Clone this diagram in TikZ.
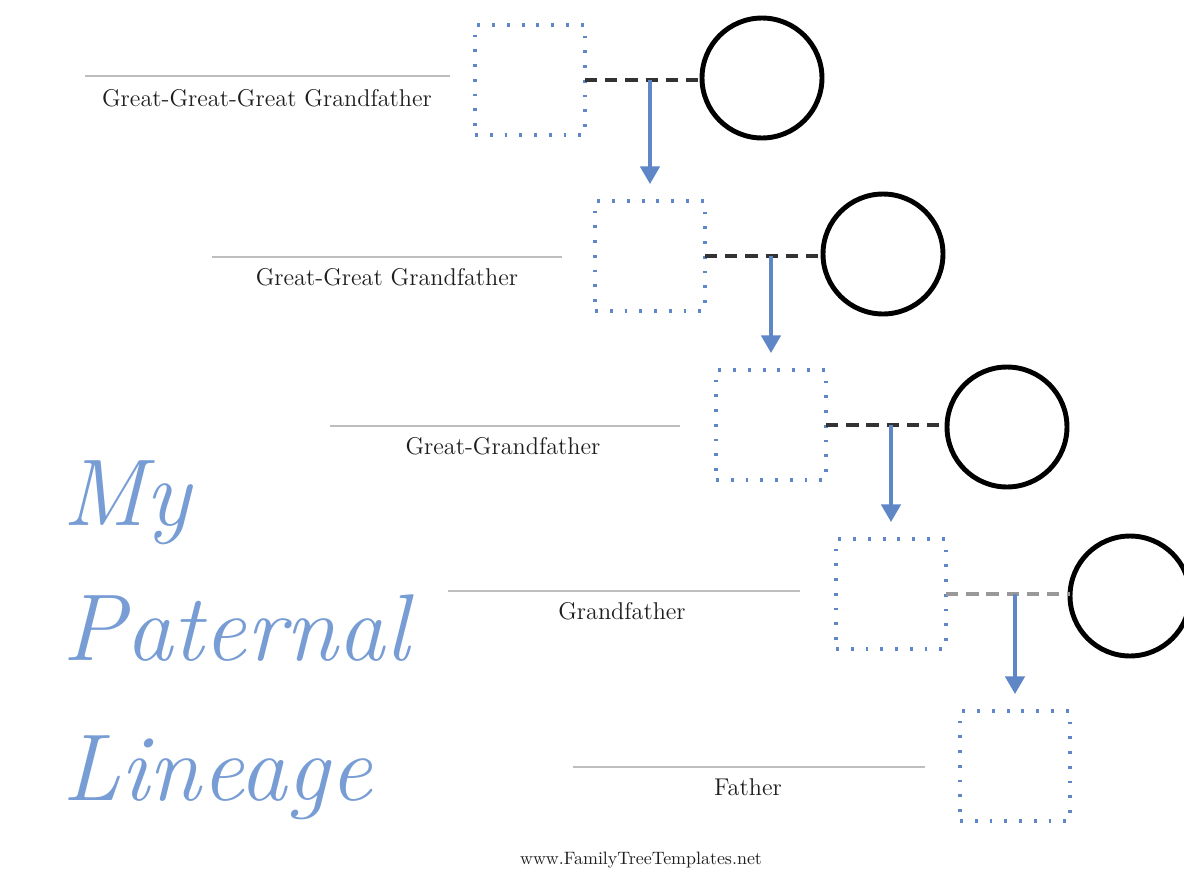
\documentclass[tikz,border=0pt]{standalone}
\usetikzlibrary{arrows.meta,calc}
\definecolor{lineblue}{RGB}{95,135,200}
\definecolor{titleblue}{RGB}{120,157,212}
\definecolor{rulegray}{RGB}{190,190,190}
\definecolor{textgray}{RGB}{30,30,30}
\tikzset{
  person/.style={draw=lineblue, line width=2.2pt, dash pattern=on 1.6pt off 6.8pt, minimum size=2.2cm, inner sep=0pt, outer sep=0pt},
  spouse/.style={circle, draw=black, line width=2.8pt, minimum size=2.4cm, inner sep=0pt, outer sep=0pt},
  marriage/.style={draw=black!80, line width=1.8pt, dash pattern=on 7pt off 4.5pt},
  descent/.style={draw=lineblue, line width=1.9pt, -{Triangle[width=11pt,length=10pt]}, shorten >=0.34cm},
  rule/.style={draw=rulegray, line width=1.2pt},
  namelabel/.style={font=\fontsize{13.8}{15}\selectfont, text=textgray, inner sep=0pt, anchor=north},
  titletext/.style={font=\fontsize{54}{60}\selectfont\itshape, text=titleblue, inner sep=0pt, anchor=base west}
}
\begin{document}
\begin{tikzpicture}[x=0.02cm,y=-0.02cm]
\useasboundingbox[fill=white] (0,0) rectangle (1184,876);

% squares
\node[person] (s1) at (530,80) {};
\node[person] (s2) at (650,256) {};
\node[person] (s3) at (771,425) {};
\node[person] (s4) at (891,594) {};
\node[person] (s5) at (1015,766) {};

% circles
\node[spouse] (c1) at (762,78) {};
\node[spouse] (c2) at (883,254) {};
\node[spouse] (c3) at (1007,427) {};
\node[spouse] (c4) at (1130,596) {};

% marriage lines
\draw[marriage] (s1.east) -- (s1.east -| c1.west);
\draw[marriage] (s2.east) -- (s2.east -| c2.west);
\draw[marriage] (s3.east) -- (s3.east -| c3.west);
\draw[marriage, draw=black!40] (s4.east) -- (s4.east -| c4.west);

% descent arrows
\draw[descent] (s1.east -| s2.north) -- (s2.north);
\draw[descent] (s2.east -| s3.north) -- (s3.north);
\draw[descent] (s3.east -| s4.north) -- (s4.north);
\draw[descent] (s4.east -| s5.north) -- (s5.north);

% name rules and labels
\coordinate (r1a) at (85,76);  \coordinate (r1b) at (450,76);
\coordinate (r2a) at (212,257); \coordinate (r2b) at (562,257);
\coordinate (r3a) at (330,426); \coordinate (r3b) at (680,426);
\coordinate (r4a) at (448,591); \coordinate (r4b) at (800,591);
\coordinate (r5a) at (573,767); \coordinate (r5b) at (925,767);
\draw[rule] (r1a) -- (r1b);
\draw[rule] (r2a) -- (r2b);
\draw[rule] (r3a) -- (r3b);
\draw[rule] (r4a) -- (r4b);
\draw[rule] (r5a) -- (r5b);
\node[namelabel] (l1) at (267,89) {Great-Great-Great Grandfather};
\node[namelabel] (l2) at (387,268) {Great-Great Grandfather};
\node[namelabel] (l3) at (503,437) {Great-Grandfather};
\node[namelabel] (l4) at (622,602) {Grandfather};
\node[namelabel] (l5) at (748,778) {Father};

% title
\node[titletext] (t1) at (62,525) {My};
\node[titletext] (t2) at (62,660) {Paternal};
\node[titletext] (t3) at (62,800) {Lineage};

% footer
\node[font=\fontsize{10.2}{12}\selectfont, text=textgray, inner sep=0pt] (foot) at (641,860) {www.FamilyTreeTemplates.net};
\end{tikzpicture}
\end{document}
